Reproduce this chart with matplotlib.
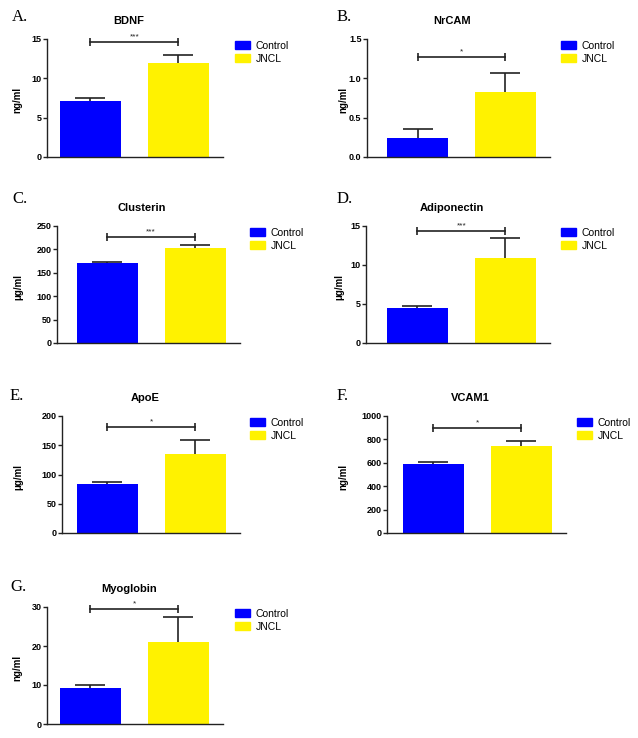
import matplotlib
matplotlib.use("Agg")
import matplotlib.pyplot as plt
from matplotlib.patches import Patch

plt.rcParams['font.family'] = ['Liberation Sans', 'DejaVu Sans']

# Data (mean + upper error bar)
letters = ['A.', 'B.', 'C.', 'D.', 'E.', 'F.', 'G.']
titles = ['BDNF', 'NrCAM', 'Clusterin', 'Adiponectin', 'ApoE', 'VCAM1', 'Myoglobin']
units = ['ng/ml', 'ng/ml', 'μg/ml', 'μg/ml', 'μg/ml', 'ng/ml', 'ng/ml']
groups = ['Control', 'JNCL']
control_mean = [7.1, 0.24, 171, 4.5, 83.5, 588, 9.2]
control_err = [0.36, 0.11, 2, 0.18, 4, 20, 0.9]
jncl_mean = [11.9, 0.83, 202, 10.9, 134.7, 747, 21.0]
jncl_err = [1.1, 0.24, 8, 2.5, 23.8, 43, 6.5]
y_max = [15, 1.5, 250, 15, 200, 1000, 30]
y_step = [5, 0.5, 50, 5, 50, 200, 10]
bracket_y = [14.6, 1.27, 227, 14.4, 182, 898, 29.5]
stars = ['***', '*', '***', '***', '*', '*', '*']

colors = ['#0000ff', '#fff200']

# layout in pixels: axes (left, top, right, bottom), left xlim, letter pos, legend pos, ylabel x
W, H = 638, 738
axes_px = [(47, 39, 223, 157), (367, 39, 550, 157),
           (57, 226, 240, 343), (366, 226, 550, 343),
           (62, 416, 240, 533), (387, 416, 566, 533),
           (47, 607, 223, 724)]
xlim_left = [-0.494, -0.574, -0.568, -0.585, -0.511, -0.523, -0.494]
letter_px = [(12, 17), (337, 17), (12, 199), (337, 199), (10, 396), (337, 396), (10, 587)]
legend_px = [(235, 41), (561, 41), (250, 228), (561, 228), (250, 418), (577, 418), (235, 609)]
ylabel_x = [22, 348, 23, 344, 23, 348, 22]

fig = plt.figure(figsize=(6.38, 7.38), dpi=100)

for i in range(len(titles)):
    l, t, r, b = axes_px[i]
    ax = fig.add_axes([l / W, 1 - b / H, (r - l) / W, (b - t) / H])
    means = [control_mean[i], jncl_mean[i]]
    errs = [control_err[i], jncl_err[i]]
    eb = ax.errorbar([0, 1], means, yerr=[[0, 0], errs], fmt='none', ecolor='#222222',
                     elinewidth=1.2, capsize=11, capthick=1.2, zorder=1)
    # only the upper cap is drawn in the original
    eb[1][0].set_visible(False)
    ax.bar([0, 1], means, width=0.69, color=colors, zorder=2)

    # significance bracket
    ax.plot([0, 1], [bracket_y[i]] * 2, color='#222222', lw=1.2,
            marker='|', markersize=6, markeredgewidth=1.2, clip_on=False)
    ax.annotate(stars[i], (0.5, bracket_y[i]), xytext=(0, 1), textcoords='offset points',
                ha='center', va='bottom', fontsize=6, color='#222222')

    ax.set_xlim(xlim_left[i], 1.506)
    ax.set_ylim(0, y_max[i])
    n = int(round(y_max[i] / y_step[i]))
    ax.set_yticks([k * y_step[i] for k in range(n + 1)])
    ax.set_xticks([])
    for s in ['top', 'right']:
        ax.spines[s].set_visible(False)
    for s in ['left', 'bottom']:
        ax.spines[s].set_linewidth(1.0)
        ax.spines[s].set_color('#222222')
    ax.tick_params(axis='y', length=3, width=1.0, pad=1, labelsize=6.5, color='#222222')
    for lab in ax.get_yticklabels():
        lab.set_fontweight('bold')

    ax.text(0.465, 1 + 18 / (b - t), titles[i], transform=ax.transAxes,
            ha='center', va='center', fontsize=8, fontweight='bold')
    ax.set_ylabel(units[i], fontsize=7, fontweight='bold')
    ax.yaxis.set_label_coords((ylabel_x[i] - l) / (r - l), 0.48)

    lx, ly = letter_px[i]
    fig.text(lx / W, 1 - ly / H, letters[i], fontsize=12, va='center', ha='left',
             family='Liberation Serif')

    gx, gy = legend_px[i]
    handles = [Patch(color=c) for c in colors]
    ax.legend(handles, groups, loc='upper left', bbox_to_anchor=(gx / W, 1 - gy / H),
              bbox_transform=fig.transFigure, frameon=False, borderpad=0,
              borderaxespad=0, fontsize=7.5, handlelength=1.45, handleheight=0.8,
              handletextpad=0.5, labelspacing=0.25)

fig.savefig('out.png', dpi=100)
